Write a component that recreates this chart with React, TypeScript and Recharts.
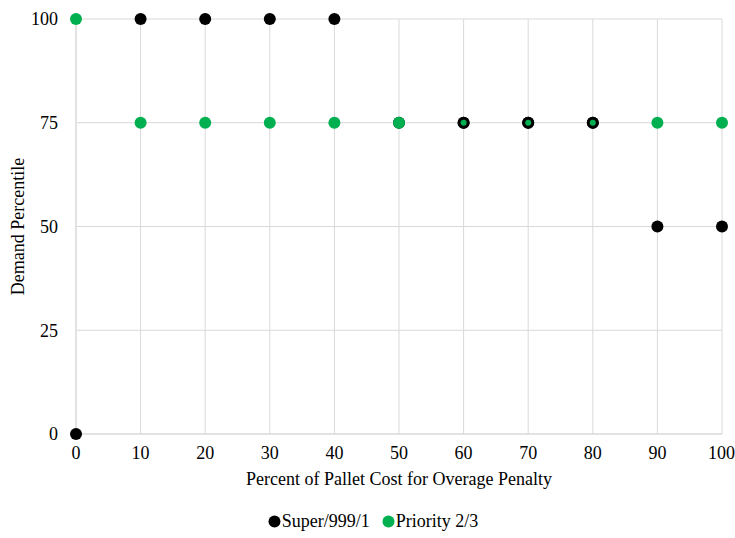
import { ScatterChart, Scatter, XAxis, YAxis, CartesianGrid, Legend, Label } from 'recharts'

const PCT = [0, 10, 20, 30, 40, 50, 60, 70, 80, 90, 100]
const SUPER = [0, 100, 100, 100, 100, 75, 75, 75, 75, 50, 50]
const PRIORITY = [100, 75, 75, 75, 75, 75, 75, 75, 75, 75, 75]
const Y_TICKS = [0, 25, 50, 75, 100]

const superData = PCT.map((x, i) => ({ x, y: SUPER[i] }))
const priorityData = PCT.map((x, i) => ({ x, y: PRIORITY[i] }))

const BLACK = '#000000'
const GREEN = '#00b050'
const FONT = '"Liberation Serif", "Times New Roman", serif'

// eslint-disable-next-line @typescript-eslint/no-explicit-any
function Dot({ cx, cy, fill }: any) {
  return <circle cx={cx} cy={cy} r={6} fill={fill} />
}

// green markers that sit under a black one show as a black ring with a green core
// eslint-disable-next-line @typescript-eslint/no-explicit-any
function GreenDot({ cx, cy, payload }: any) {
  const ringed = payload.x >= 60 && payload.x <= 80
  if (ringed) {
    return (
      <g>
        <circle cx={cx} cy={cy} r={6} fill={BLACK} />
        <circle cx={cx} cy={cy} r={3} fill={GREEN} />
      </g>
    )
  }
  return <circle cx={cx} cy={cy} r={6} fill={GREEN} />
}

function LegendContent() {
  const items = [
    { label: 'Super/999/1', color: BLACK },
    { label: 'Priority 2/3', color: GREEN },
  ]
  return (
    <div style={{ display: 'flex', justifyContent: 'center', gap: 12, fontFamily: FONT, fontSize: 18, color: '#000' }}>
      {items.map(it => (
        <span key={it.label} style={{ display: 'flex', alignItems: 'center', fontFamily: FONT }}>
          <svg width={13} height={13} style={{ marginRight: 1 }}>
            <circle cx={6.5} cy={6.5} r={6} fill={it.color} />
          </svg>
          {it.label}
        </span>
      ))}
    </div>
  )
}

const tickStyle = { fill: '#000', fontSize: 18, fontFamily: FONT }

export default function App() {
  return (
    <div style={{ position: 'absolute', left: 0, top: 0, width: 735, height: 538, background: '#fff', fontFamily: FONT }}>
      <ScatterChart width={735} height={538} margin={{ top: 19, right: 13, bottom: 32, left: 24 }} style={{ fontFamily: FONT }}>
        <CartesianGrid stroke="#d9d9d9" />
        <XAxis
          type="number"
          dataKey="x"
          domain={[0, 100]}
          ticks={PCT}
          tickLine={false}
          axisLine={{ stroke: '#d9d9d9' }}
          tick={tickStyle}
          tickMargin={6}
          height={51}
        >
          <Label
            value="Percent of Pallet Cost for Overage Penalty"
            position="insideBottom"
            offset={0}
            style={tickStyle}
          />
        </XAxis>
        <YAxis
          type="number"
          dataKey="y"
          domain={[0, 100]}
          ticks={Y_TICKS}
          tickLine={false}
          axisLine={{ stroke: '#d9d9d9' }}
          tick={tickStyle}
          tickMargin={12}
          width={52}
        >
          <Label
            value="Demand Percentile"
            angle={-90}
            position="insideLeft"
            offset={-6}
            style={{ ...tickStyle, textAnchor: 'middle' }}
          />
        </YAxis>
        <Legend verticalAlign="bottom" content={<LegendContent />} wrapperStyle={{ bottom: 6 }} />
        <Scatter name="Super/999/1" data={superData} fill={BLACK} shape={<Dot />} isAnimationActive={false} />
        <Scatter name="Priority 2/3" data={priorityData} fill={GREEN} shape={<GreenDot />} isAnimationActive={false} />
      </ScatterChart>
    </div>
  )
}
